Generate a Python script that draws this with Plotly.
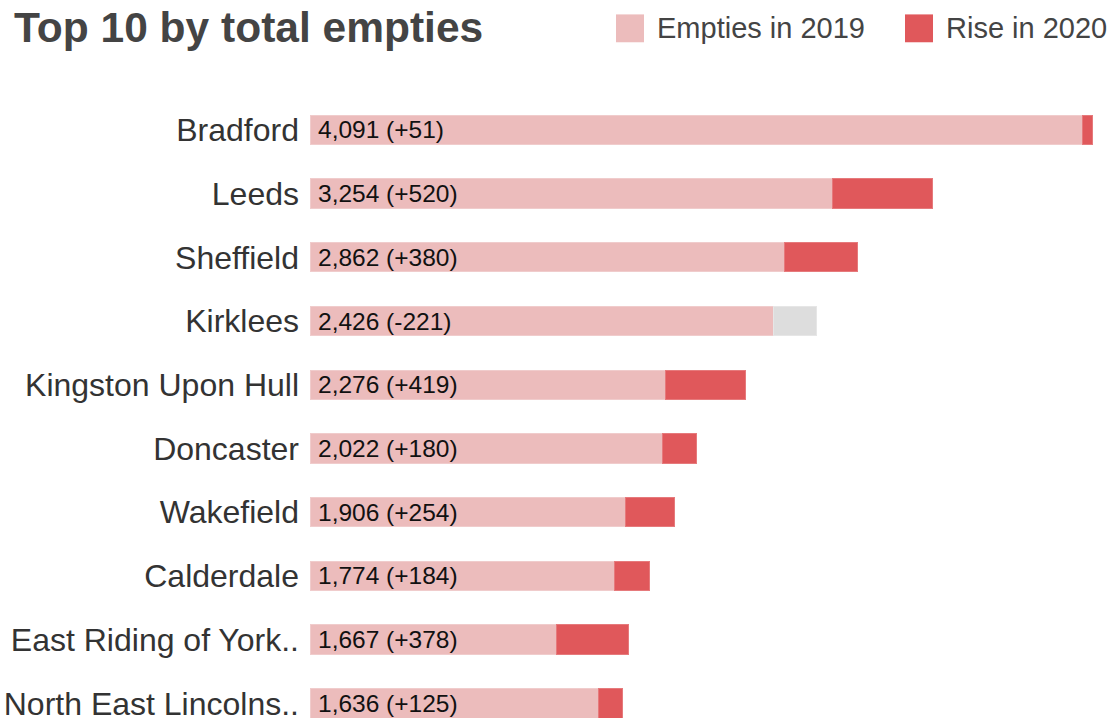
import plotly.graph_objects as go

# ---- data ----
areas = ["Bradford", "Leeds", "Sheffield", "Kirklees", "Kingston Upon Hull",
         "Doncaster", "Wakefield", "Calderdale", "East Riding of York..",
         "North East Lincolns.."]
empties_2020 = [4091, 3254, 2862, 2426, 2276, 2022, 1906, 1774, 1667, 1636]
change_vs_2019 = [51, 520, 380, -221, 419, 180, 254, 184, 378, 125]

legend_labels = ["Empties in 2019", "Rise in 2020"]
title_text = "Top 10 by total empties"

# ---- styling ----
PINK = "#ecbcbc"
RED = "#e0585b"
GREY = "#dddddd"
FONT = "Liberation Sans, Arial, sans-serif"

W, H = 1109, 721
L, R, T, B = 310, 15, 98, 0
PW, PH = W - L - R, H - T - B

def px_x(p):
    return (p - L) / PW

def px_y(p):
    return (H - B - p) / PH

# derived series
base_vals = [t - max(c, 0) for t, c in zip(empties_2020, change_vs_2019)]
extra_vals = [abs(c) for c in change_vs_2019]
extra_cols = [RED if c > 0 else GREY for c in change_vs_2019]
extra_line = ["#e67a7c" if c > 0 else "#e6e6e6" for c in change_vs_2019]
labels = [f"{t:,} ({c:+d})" for t, c in zip(empties_2020, change_vs_2019)]

fig = go.Figure()
fig.add_trace(go.Bar(
    y=areas, x=base_vals, orientation="h", name=legend_labels[0],
    marker=dict(color=PINK, line=dict(color="#f0cccc", width=1)),
    showlegend=False, hoverinfo="skip"))
fig.add_trace(go.Bar(
    y=areas, x=extra_vals, orientation="h", name=legend_labels[1],
    marker=dict(color=extra_cols, line=dict(color=extra_line, width=1)),
    showlegend=False, hoverinfo="skip"))

annotations = []
for a, lab in zip(areas, labels):
    annotations.append(dict(
        x=0, y=a, xref="x", yref="y", text=lab, showarrow=False,
        xanchor="left", yanchor="middle", xshift=6,
        font=dict(family=FONT, size=24.5, color="#111111")))

# title
annotations.append(dict(
    x=px_x(12), y=px_y(27), xref="paper", yref="paper", text=f"<b>{title_text}</b>",
    showarrow=False, xanchor="left", yanchor="middle",
    font=dict(family=FONT, size=42.5, color="#444444")))

# legend (drawn manually for large swatches)
shapes = []
legend_items = [(legend_labels[0], PINK, 616, 655), (legend_labels[1], RED, 905, 944)]
for lab, col, sx, tx in legend_items:
    shapes.append(dict(type="rect", xref="paper", yref="paper",
                       x0=px_x(sx), x1=px_x(sx + 28), y0=px_y(42), y1=px_y(14),
                       fillcolor=col, line=dict(width=0)))
    annotations.append(dict(
        x=px_x(tx), y=px_y(28), xref="paper", yref="paper", text=lab,
        showarrow=False, xanchor="left", yanchor="middle",
        font=dict(family=FONT, size=29, color="#444444")))

fig.update_layout(
    width=W, height=H,
    margin=dict(l=L, r=R, t=T, b=B, pad=0),
    barmode="stack", bargap=0.54,
    plot_bgcolor="white", paper_bgcolor="white",
    showlegend=False,
    annotations=annotations, shapes=shapes,
    xaxis=dict(range=[0, 4100], visible=False, fixedrange=True),
    yaxis=dict(categoryorder="array", categoryarray=areas,
               range=[9.23, -0.5], showgrid=False, zeroline=False,
               showline=False, ticks="", ticklabelstandoff=10,
               tickfont=dict(family=FONT, size=32, color="#333333"),
               fixedrange=True),
)

fig.write_html("out.html", config={"displayModeBar": False},
               post_script="document.body.style.margin='0';document.body.style.overflow='hidden';")
